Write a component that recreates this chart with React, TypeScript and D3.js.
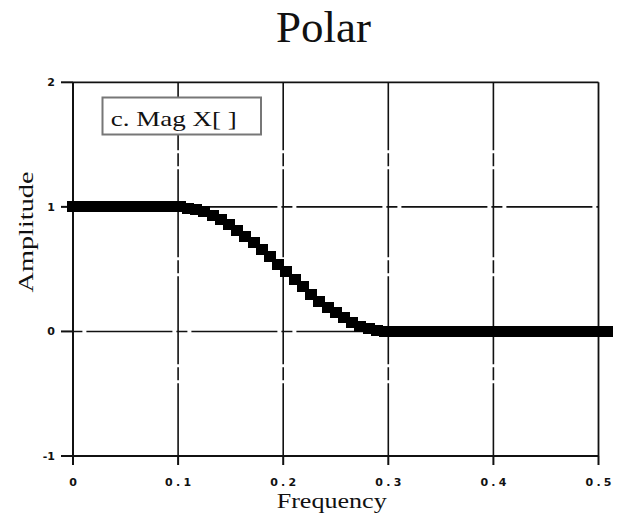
import React from "react";
import * as d3 from "d3";

// Magnitude of X[k], k = 0..64 (bins of 1/128 cycles/sample)
const magnitude: number[] = [
  1, 1, 1, 1, 1, 1, 1, 1, 1, 1, 1, 1, 1,
  1.0, 0.99, 0.98, 0.96, 0.93, 0.9, 0.86, 0.81, 0.76, 0.71, 0.66, 0.6,
  0.54, 0.48, 0.42, 0.36, 0.3, 0.24, 0.19, 0.15, 0.11, 0.07, 0.04, 0.02,
  0.01, 0, 0, 0, 0, 0, 0, 0, 0, 0, 0, 0, 0, 0, 0, 0, 0, 0, 0, 0, 0, 0, 0,
  0, 0, 0, 0, 0, 0,
];
const binsPerCycle = 128;
const xTicks: number[] = [0, 0.1, 0.2, 0.3, 0.4, 0.5];
const xTickLabels: string[] = ["0", "0.1", "0.2", "0.3", "0.4", "0.5"];
const yTicks: number[] = [-1, 0, 1, 2];
const yTickLabels: string[] = ["-1", "0", "1", "2"];
const title = "Polar";
const xTitle = "Frequency";
const yTitle = "Amplitude";
const legendText = "c.  Mag X[ ]";

export default function App() {
  const W = 625;
  const H = 519;
  const x = d3.scaleLinear().domain([0, 0.5]).range([73, 598.5]);
  const y = d3.scaleLinear().domain([-1, 2]).range([456, 82.3]);
  const x0 = x(0), x1 = x(0.5), yTop = y(2), yBot = y(-1);
  const serif = "'Liberation Serif', 'Times New Roman', serif";
  const tickFont = "'DejaVu Sans', sans-serif";
  const points = magnitude.map((m, i) => ({ f: i / binsPerCycle, m }));
  const mw = 12, mh = 11;

  return (
    <svg width={W} height={H} style={{ position: "absolute", left: 0, top: 0, background: "#fff" }}>
      <rect x={0} y={0} width={W} height={H} fill="#fff" />
      {/* title */}
      <text x={323.5} y={42} fontFamily={serif} fontSize={45} textAnchor="middle" fill="#111">{title}</text>

      {/* vertical grid lines */}
      {xTicks.slice(1, -1).map((t) => (
        <line key={"vg" + t} x1={x(t)} x2={x(t)} y1={yTop} y2={yBot} stroke="#111" strokeWidth={1.6}
          strokeDasharray="88,3,13,3" strokeDashoffset={20} />
      ))}
      {/* horizontal grid lines */}
      {yTicks.slice(1, -1).map((t) => (
        <line key={"hg" + t} x1={x0} x2={x1} y1={y(t)} y2={y(t)} stroke="#111" strokeWidth={1.6}
          strokeDasharray="86,4,11,4" strokeDashoffset={91.6} />
      ))}

      {/* frame */}
      <line x1={x0} x2={x1} y1={yTop} y2={yTop} stroke="#111" strokeWidth={1.8} />
      <line x1={x1} x2={x1} y1={yTop} y2={yBot} stroke="#111" strokeWidth={1.8} />
      <line x1={x0} x2={x0} y1={yTop} y2={yBot} stroke="#111" strokeWidth={2} />
      <line x1={x0} x2={x1} y1={yBot} y2={yBot} stroke="#111" strokeWidth={2} />

      {/* y ticks */}
      {yTicks.map((t, i) => (
        <g key={"yt" + t}>
          <line x1={x0 - 12} x2={x0} y1={y(t)} y2={y(t)} stroke="#111" strokeWidth={2} />
          <text x={55} y={y(t) + 4} fontFamily={tickFont} fontWeight="bold" fontSize={11}
            textAnchor="end" fill="#111">{yTickLabels[i]}</text>
        </g>
      ))}
      {/* x ticks */}
      {xTicks.map((t, i) => (
        <g key={"xt" + t}>
          <line x1={x(t)} x2={x(t)} y1={yBot} y2={yBot + 9} stroke="#111" strokeWidth={2} />
          <text x={x(t)} y={486} fontFamily={tickFont} fontWeight="bold" fontSize={11}
            textAnchor="middle" fill="#111"
            {...(xTickLabels[i].length > 1 ? { textLength: 26, lengthAdjust: "spacing" } : {})}>{xTickLabels[i]}</text>
        </g>
      ))}

      {/* axis titles */}
      <text x={331.7} y={508} fontFamily={serif} fontSize={21} textAnchor="middle" fill="#111"
        textLength={110} lengthAdjust="spacingAndGlyphs">{xTitle}</text>
      <text transform={`translate(33, 232) rotate(-90)`} fontFamily={serif} fontSize={21}
        textAnchor="middle" fill="#111" textLength={121} lengthAdjust="spacingAndGlyphs">{yTitle}</text>

      {/* legend */}
      <rect x={102.5} y={97.5} width={158.5} height={37} fill="#fff" stroke="#777" strokeWidth={2} />
      <text x={110.7} y={126} fontFamily={serif} fontSize={22} fill="#111"
        textLength={126} lengthAdjust="spacingAndGlyphs">{legendText}</text>

      {/* data markers */}
      <g shapeRendering="crispEdges">
        {points.map((p, i) => (
          <rect key={"p" + i} x={x(p.f) - mw / 2} y={y(p.m) - mh / 2} width={mw} height={mh} fill="#000" />
        ))}
      </g>
    </svg>
  );
}
